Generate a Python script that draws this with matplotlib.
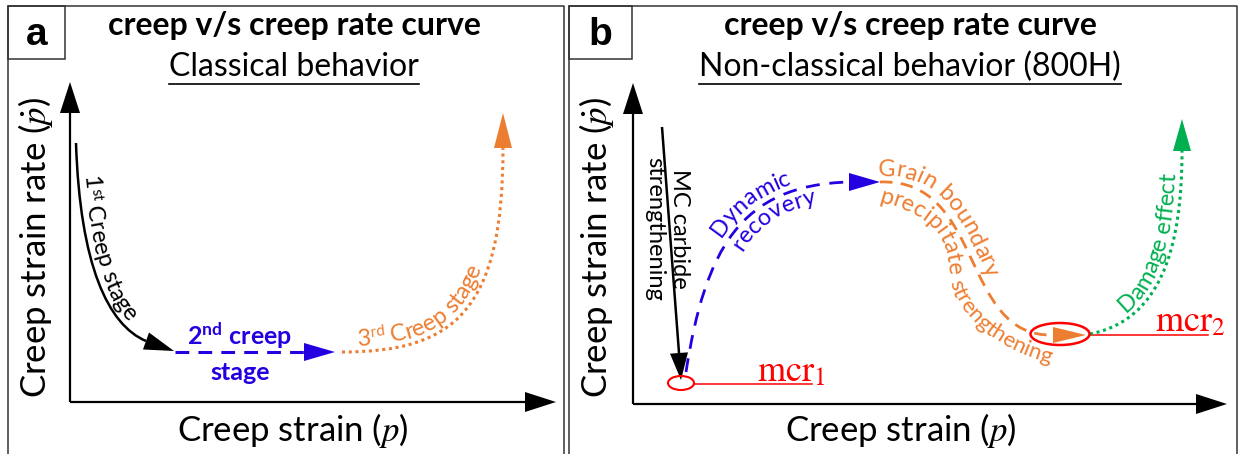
import numpy as np
import matplotlib
matplotlib.use("Agg")
import matplotlib.pyplot as plt
from matplotlib.path import Path
from matplotlib.patches import PathPatch, Ellipse, Rectangle
from matplotlib.bezier import BezierSegment
from matplotlib.font_manager import FontProperties, findfont, get_font

plt.rcParams['font.family'] = ['Lato', 'DejaVu Sans']
plt.rcParams['mathtext.fontset'] = 'custom'
plt.rcParams['mathtext.rm'] = 'Lato'
plt.rcParams['mathtext.bf'] = 'Lato:bold'
plt.rcParams['mathtext.it'] = 'STIXGeneral:italic'
plt.rcParams['mathtext.sf'] = 'STIXGeneral'

BLUE = '#2400e0'
ORANGE = '#ed7d31'
GREEN = '#00b050'
RED = '#ff0000'

# Schematic geometry (image pixel units, y pointing down)
# panel a
A_YAXIS_X = [70, 70]
A_YAXIS_Y = [402, 82]
A_XAXIS_X = [70, 556]
A_XAXIS_Y = [402, 402]
STAGE1_X = [76, 80, 108, 146]          # cubic bezier control points
STAGE1_Y = [143, 265, 325, 341]
STAGE1_TIP = (174, 351)
STAGE2_X = [175, 304]
STAGE2_Y = [352, 352]
STAGE2_TIP = (335, 352)
STAGE3_X = [342, 455, 503, 503]
STAGE3_Y = [352, 352, 310, 148]
STAGE3_TIP = (503, 113)

# panel b
B_YAXIS_X = [633, 633]
B_YAXIS_Y = [404, 83]
B_XAXIS_X = [633, 1227]
B_XAXIS_Y = [404, 404]
MC_X = [662, 679]
MC_Y = [127, 353]
MC_TIP = (681, 380)
RECOV_X = [686, 705, 740, 849]
RECOV_Y = [372, 250, 185, 182]
RECOV_TIP = (880, 182)
GBP_X = [880, 985, 960, 1053]
GBP_Y = [182, 178, 338, 335]
GBP_TIP = (1086, 335)
DAMAGE_X = [1090, 1160, 1182, 1182]
DAMAGE_Y = [334, 320, 250, 151]
DAMAGE_TIP = (1182, 119)
# label tracks (glyph-centre lines) for the two lower orange labels
PRECIP_X = [880, 925, 950, 954]
PRECIP_Y = [196, 208, 225, 268]
STRENGTH_X = [956, 964, 995, 1050]
STRENGTH_Y = [284, 312, 342, 357]
MCR1_CENTER = (681, 383)
MCR1_SIZE = (26, 14)
MCR1_LINE_X = [694, 812]
MCR1_LINE_Y = [384, 384]
MCR2_CENTER = (1060, 334)
MCR2_SIZE = (59, 22)
MCR2_LINE_X = [1090, 1208]
MCR2_LINE_Y = [335, 335]

TITLE = 'creep v/s creep rate curve'
SUBTITLES = ['Classical behavior', 'Non-classical behavior (800H)']
PANEL_LETTERS = ['a', 'b']
YLABEL = r'Creep strain rate $(\dot{p})$'
XLABEL = r'Creep strain $(p)$'

W, H = 1241, 454
fig = plt.figure(figsize=(W / 100, H / 100), dpi=100)
ax = fig.add_axes([0, 0, 1, 1])
ax.set_xlim(0, W)
ax.set_ylim(H, 0)
ax.axis('off')


def head(tip, base, color, hw):
    """filled triangular arrow head from base centre to tip"""
    tip = np.asarray(tip, float)
    base = np.asarray(base, float)
    d = tip - base
    n = np.array([-d[1], d[0]]) / np.hypot(*d)
    pts = np.array([tip, base + n * hw, base - n * hw])
    ax.fill(pts[:, 0], pts[:, 1], color=color, lw=0, zorder=4)


def bezier(xs, ys, color, lw, ls):
    verts = list(zip(xs, ys))
    codes = [Path.MOVETO, Path.CURVE4, Path.CURVE4, Path.CURVE4]
    ax.add_patch(PathPatch(Path(verts, codes), fill=False, color=color,
                           lw=lw, linestyle=ls, capstyle='butt', zorder=3))


def curve_text(xs, ys, segments, s0, offset, color, weight='normal'):
    """lay characters along a bezier shifted sideways by `offset` px"""
    seg = BezierSegment(np.column_stack([xs, ys]))
    pts = ax.transData.transform(seg(np.linspace(0, 1, 400)))
    tan = np.gradient(pts, axis=0)
    tan /= np.hypot(tan[:, 0], tan[:, 1])[:, None]
    nor = np.column_stack([-tan[:, 1], tan[:, 0]])
    base = pts + nor * offset
    s = np.concatenate([[0], np.cumsum(np.hypot(*np.diff(base, axis=0).T))])
    pos = s0
    inv = ax.transData.inverted()
    for txt, size, rise in segments:
        prop = FontProperties(family='Lato', size=size, weight=weight)
        font = get_font(findfont(prop))
        font.set_size(size, fig.dpi)
        for ch in txt:
            adv = font.load_char(ord(ch)).linearHoriAdvance / 65536
            c = pos + adv / 2
            pos += adv
            if ch == ' ':
                continue
            if c < 0:
                p, t = base[0] + tan[0] * c, tan[0]
            elif c > s[-1]:
                p, t = base[-1] + tan[-1] * (c - s[-1]), tan[-1]
            else:
                i = int(np.clip(np.searchsorted(s, c), 1, len(s) - 1))
                f = (c - s[i - 1]) / max(s[i] - s[i - 1], 1e-9)
                p = base[i - 1] + f * (base[i] - base[i - 1])
                t = base[i] - base[i - 1]
                t = t / np.hypot(*t)
            p = p + np.array([-t[1], t[0]]) * rise
            dx, dy = inv.transform(p)
            ax.text(dx, dy, ch, fontproperties=prop, color=color,
                    rotation=np.degrees(np.arctan2(t[1], t[0])),
                    rotation_mode='anchor', ha='center', va='baseline', zorder=5)


# panel frames and letter boxes
for x0, x1 in [(8, 564), (569, 1237)]:
    ax.plot([x0, x0, x1, x1], [H + 5, 6, 6, H + 5], color='#333333', lw=1.1)
for (x0, x1), letter in zip([(8, 65), (569, 632)], PANEL_LETTERS):
    ax.add_patch(Rectangle((x0, 6), x1 - x0, 53, fill=False, ec='#333333', lw=1.1))
    ax.text((x0 + x1) / 2, 35, letter, ha='center', va='center', fontsize=28,
            fontweight='bold', family='Liberation Sans')

# titles
for cx, sub in zip([294, 910], SUBTITLES):
    ax.text(cx, 25, TITLE, ha='center', va='center', fontsize=23, fontweight='bold')
    t = ax.text(cx, 67, sub, ha='center', va='center', fontsize=23)
    fig.canvas.draw()
    bb = t.get_window_extent().transformed(ax.transData.inverted())
    ax.plot([bb.x0, bb.x1], [84, 84], color='black', lw=1.2)

# axes arrows
for xs, ys in [(A_YAXIS_X, A_YAXIS_Y), (A_XAXIS_X, A_XAXIS_Y),
               (B_YAXIS_X, B_YAXIS_Y), (B_XAXIS_X, B_XAXIS_Y)]:
    tip = np.array([xs[1], ys[1]], float)
    start = np.array([xs[0], ys[0]], float)
    u = (tip - start) / np.hypot(*(tip - start))
    base = tip - u * 31
    ax.plot([start[0], base[0]], [start[1], base[1]], color='black', lw=1.6,
            solid_capstyle='butt')
    head(tip, base, 'black', 10)

for cx in [36, 597]:
    ax.text(cx, 247, YLABEL, rotation=90, ha='center', va='center', fontsize=25)
for cx in [293, 901]:
    ax.text(cx, 430, XLABEL, ha='center', va='center', fontsize=25)

# panel a curves
bezier(STAGE1_X, STAGE1_Y, 'black', 1.8, '-')
head(STAGE1_TIP, (STAGE1_X[-1], STAGE1_Y[-1]), 'black', 9)
ax.plot(STAGE2_X, STAGE2_Y, color=BLUE, lw=2.2, linestyle=(0, (4.5, 3)))
head(STAGE2_TIP, (STAGE2_X[-1], STAGE2_Y[-1]), BLUE, 9)
bezier(STAGE3_X, STAGE3_Y, ORANGE, 2.2, (0, (1, 1.2)))
head(STAGE3_TIP, (STAGE3_X[-1], STAGE3_Y[-1]), ORANGE, 9)

curve_text(STAGE1_X, STAGE1_Y, [('1', 17, 0), ('st', 11, 8), (' Creep stage', 17, 0)],
           33, 5, 'black')
curve_text(STAGE3_X, STAGE3_Y, [('3', 17, 0), ('rd', 11, 8), (' Creep stage', 17, 0)],
           16, 6, ORANGE)
ax.text(240, 336, r'2$^{\mathbf{nd}}$ creep', ha='center', va='center', fontsize=18,
        fontweight='bold', color=BLUE)
ax.text(240, 372, 'stage', ha='center', va='center', fontsize=18,
        fontweight='bold', color=BLUE)

# panel b curves
ax.plot(MC_X, MC_Y, color='black', lw=1.8, solid_capstyle='butt')
head(MC_TIP, (MC_X[-1], MC_Y[-1]), 'black', 9)
bezier(RECOV_X, RECOV_Y, BLUE, 2.0, (0, (5, 3.5)))
head(RECOV_TIP, (RECOV_X[-1], RECOV_Y[-1]), BLUE, 9)
bezier(GBP_X, GBP_Y, ORANGE, 2.0, (0, (4.5, 3)))
head(GBP_TIP, (GBP_X[-1], GBP_Y[-1]), ORANGE, 8)
bezier(DAMAGE_X, DAMAGE_Y, GREEN, 2.2, (0, (1, 1.2)))
head(DAMAGE_TIP, (DAMAGE_X[-1], DAMAGE_Y[-1]), GREEN, 9)

ax.add_patch(Ellipse(MCR1_CENTER, *MCR1_SIZE, fill=False, ec=RED, lw=1.5, zorder=6))
ax.plot(MCR1_LINE_X, MCR1_LINE_Y, color=RED, lw=1.1)
ax.text(757, 381, r'$\mathsf{mcr}_{\mathsf{1}}$', color=RED, fontsize=26, va='baseline')
ax.add_patch(Ellipse(MCR2_CENTER, *MCR2_SIZE, fill=False, ec=RED, lw=1.8, zorder=6))
ax.plot(MCR2_LINE_X, MCR2_LINE_Y, color=RED, lw=1.1)
ax.text(1155, 331, r'$\mathsf{mcr}_{\mathsf{2}}$', color=RED, fontsize=26, va='baseline')

ax.text(667, 229, 'MC carbide\nstrengthening', rotation=-90, ha='center', va='center',
        fontsize=17, linespacing=1.2)
curve_text(RECOV_X, RECOV_Y, [('Dynamic', 17, 0)], 140, 7, BLUE)
curve_text(RECOV_X, RECOV_Y, [('recovery', 17, 0)], 130, -18, BLUE)
curve_text(GBP_X, GBP_Y, [('Grain boundary', 17, 0)], -2, 6, ORANGE)
curve_text(PRECIP_X, PRECIP_Y, [('precipitate', 17, 0)], 0, -6, ORANGE)
curve_text(STRENGTH_X, STRENGTH_Y, [('strengthening', 16, 0)], -4, -6, ORANGE)
curve_text(DAMAGE_X, DAMAGE_Y, [('Damage effect', 17, 0)], 40, 6, GREEN)

fig.savefig('out.png', dpi=100)
